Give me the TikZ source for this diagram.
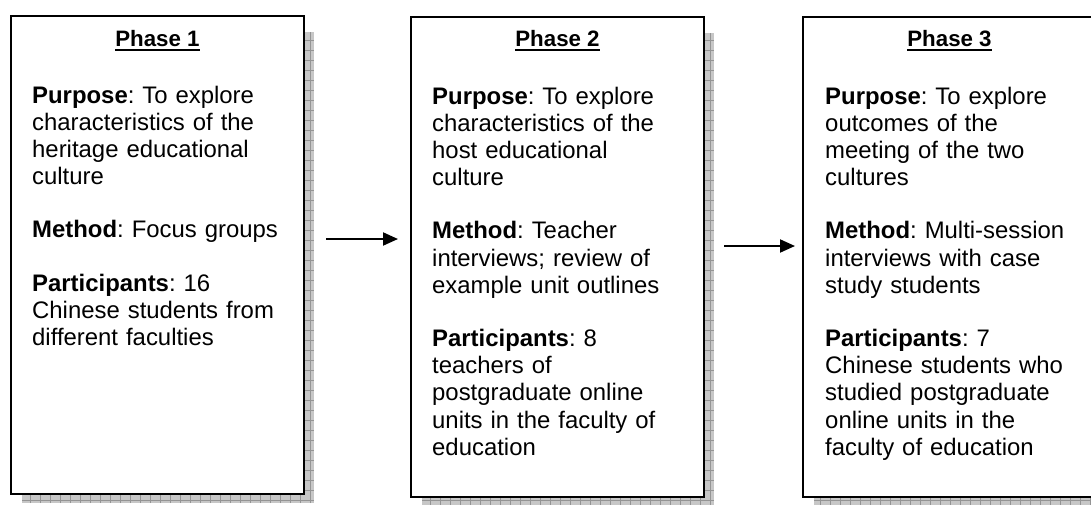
\documentclass[tikz,border=0pt]{standalone}
\usepackage{fontspec}
\setmainfont{Liberation Sans}
\frenchspacing
\usetikzlibrary{arrows.meta,backgrounds,calc}

\begin{document}
\begin{tikzpicture}[x=1pt,y=-1pt,
    phasebox/.style={draw,line width=2pt,fill=white,anchor=north west,minimum width=293pt,inner sep=0pt,outer sep=0pt},
    phasetitle/.style={font=\fontsize{22.3}{26}\selectfont\bfseries,anchor=base,inner sep=0pt},
    phasetext/.style={font=\fontsize{23.9}{27.2}\selectfont,anchor=base west,align=left,text width=280pt,inner sep=0pt},
    phaseshadow/.style={fill=black!22},
    phasegrid/.style={draw=black!42,line width=0.8pt},
    phasearrow/.style={-{Triangle[length=15pt,width=13pt]},line width=2pt}]
  \clip (0,0) rectangle (1091,504);

  \node[phasebox,minimum height=478pt] (p1) at (11,16) {};
  \node[phasebox,minimum height=480pt] (p2) at (411,17) {};
  \node[phasebox,minimum height=480pt] (p3) at (803,17) {};

  \begin{scope}[on background layer]
    \foreach \b in {p1,p2,p3} {
      \fill[phaseshadow] ($(\b.north west)+(11,16)$) rectangle ($(\b.south east)+(10,9)$);
      \draw[phasegrid,step=10pt] ($(\b.north west)+(11,16)$) grid ($(\b.south east)+(10,9)$);
    }
  \end{scope}

  \node[phasetitle] (h1) at ($(p1.north)+(0,30)$) {Phase 1};
  \node[phasetitle] (h2) at ($(p2.north)+(0,29)$) {Phase 2};
  \node[phasetitle] (h3) at ($(p3.north)+(0,29)$) {Phase 3};
  \foreach \h in {h1,h2,h3}
    \draw[line width=2pt] ($(\h.base west)+(0,3.5)$) -- ($(\h.base east)+(0,3.5)$);

  \node[phasetext] (b1) at ($(p1.north west)+(21,87)$) {%
    \textbf{Purpose}: To explore\\ characteristics of the\\ heritage educational\\ culture\\[26pt]
    \textbf{Method}: Focus groups\\[26pt]
    \textbf{Participants}: 16\\ Chinese students from\\ different faculties};
  \node[phasetext] (b2) at ($(p2.north west)+(21,87)$) {%
    \textbf{Purpose}: To explore\\ characteristics of the\\ host educational\\ culture\\[26pt]
    \textbf{Method}: Teacher\\ interviews; review of\\ example unit outlines\\[26pt]
    \textbf{Participants}: 8\\ teachers of\\ postgraduate online\\ units in the faculty of\\ education};
  \node[phasetext] (b3) at ($(p3.north west)+(22,87)$) {%
    \textbf{Purpose}: To explore\\ outcomes of the\\ meeting of the two\\ cultures\\[26pt]
    \textbf{Method}: Multi-session\\ interviews with case\\ study students\\[26pt]
    \textbf{Participants}: 7\\ Chinese students who\\ studied postgraduate\\ online units in the\\ faculty of education};

  \draw[phasearrow] ($(p1.east)+(22,-16)$) -- ($(p2.west)+(-13,-18)$);
  \draw[phasearrow] ($(p2.east)+(20,-11)$) -- ($(p3.west)+(-8,-11)$);
\end{tikzpicture}
\end{document}
